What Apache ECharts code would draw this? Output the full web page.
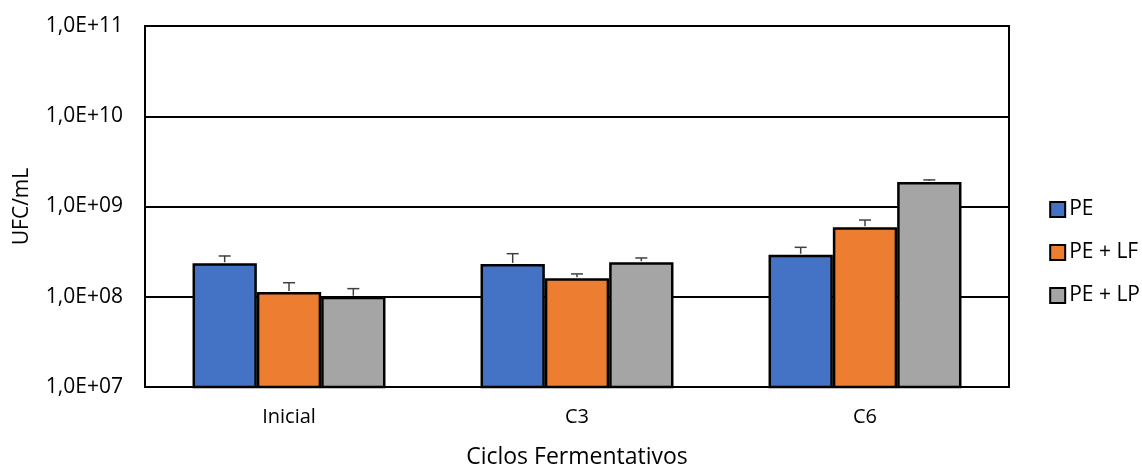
<!DOCTYPE html>
<html>
<head>
<meta charset="utf-8">
<script src="https://cdn.jsdelivr.net/npm/echarts@6/dist/echarts.min.js"></script>
<style>
  html, body { margin: 0; padding: 0; background: #fff; }
  #chart { width: 1142px; height: 466px; }
</style>
</head>
<body>
<div id="chart"></div>
<script>
// Fermentation cycles and microbial counts (UFC/mL), with standard deviations
const categories = ['Inicial', 'C3', 'C6'];
const seriesNames = ['PE', 'PE + LF', 'PE + LP'];
const pe   = [2.35e8, 2.31e8, 2.92e8];
const peLF = [1.13e8, 1.60e8, 5.88e8];
const peLP = [1.00e8, 2.41e8, 1.87e9];
const peErr   = [0.48e8, 0.69e8, 0.61e8];
const peLFErr = [0.30e8, 0.19e8, 1.20e8];
const peLPErr = [0.23e8, 0.28e8, 0.10e9];
const yTickLabels = ['1,0E+07', '1,0E+08', '1,0E+09', '1,0E+10', '1,0E+11'];

const colors = ['#4472C4', '#ED7D31', '#A5A5A5'];
const values = [pe, peLF, peLP];
const errors = [peErr, peLFErr, peLPErr];
const FONT = 'Open Sans';
const GAP = 0.33;  // share of each category band left empty

const chart = echarts.init(document.getElementById('chart'));

const barSeries = seriesNames.map((name, i) => ({
  name: name,
  type: 'bar',
  data: values[i],
  barGap: '0%',
  barCategoryGap: (GAP * 100) + '%',
  itemStyle: { color: colors[i], borderColor: '#000', borderWidth: 2.5 },
  emphasis: { disabled: true },
  z: 2
}));

// Upper error whiskers placed over each bar of its group
const errSeries = seriesNames.map((name, i) => ({
  name: name + ' err',
  type: 'custom',
  data: values[i].map((v, k) => [k, v, v + errors[i][k]]),
  renderItem: function (params, api) {
    const cat = api.value(0);
    const base = api.coord([cat, api.value(1)]);
    const top = api.coord([cat, api.value(2)]);
    const band = api.size([1, 0])[0];
    const barW = band * (1 - GAP) / 3;
    const x = base[0] + (i - 1) * barW;
    const cap = 6;
    const style = { stroke: '#404040', lineWidth: 1.5 };
    return {
      type: 'group',
      children: [
        { type: 'line', shape: { x1: x, y1: base[1] - 1, x2: x, y2: top[1] }, style: style },
        { type: 'line', shape: { x1: x - cap, y1: top[1], x2: x + cap, y2: top[1] }, style: style }
      ]
    };
  },
  z: 3,
  silent: true
}));

chart.setOption({
  animation: false,
  textStyle: { fontFamily: FONT },
  grid: {
    left: 145, right: 133, top: 26, bottom: 79,
    outerBoundsMode: 'none',
    containLabel: false,
    show: true, borderColor: '#000', borderWidth: 2
  },
  legend: {
    orient: 'vertical',
    right: -3,
    top: 194,
    itemGap: 22,
    itemWidth: 15,
    itemHeight: 15,
    icon: 'rect',
    data: seriesNames,
    textStyle: { fontFamily: FONT, fontSize: 21, color: '#000', padding: [0, 0, 0, -1] }
  },
  xAxis: {
    type: 'category',
    data: categories,
    name: 'Ciclos Fermentativos',
    nameLocation: 'middle',
    nameGap: 59,
    nameTextStyle: { fontFamily: FONT, fontSize: 23, color: '#000' },
    axisLine: { lineStyle: { color: '#000', width: 2 } },
    axisTick: { show: false },
    axisLabel: { fontFamily: FONT, fontSize: 20, color: '#000', margin: 20 }
  },
  yAxis: {
    type: 'log',
    logBase: 10,
    min: 1e7,
    max: 1e11,
    name: 'UFC/mL',
    nameLocation: 'middle',
    nameGap: 112,
    nameTextStyle: { fontFamily: FONT, fontSize: 21, color: '#000' },
    axisLine: { show: true, lineStyle: { color: '#000', width: 2 } },
    axisTick: { show: false },
    splitLine: { lineStyle: { color: '#000', width: 2 } },
    axisLabel: {
      fontFamily: FONT, fontSize: 21, color: '#000', margin: 22,
      formatter: function (v) {
        const idx = Math.round(Math.log10(v)) - 7;
        return yTickLabels[idx] || '';
      }
    }
  },
  series: barSeries.concat(errSeries)
});
</script>
</body>
</html>
